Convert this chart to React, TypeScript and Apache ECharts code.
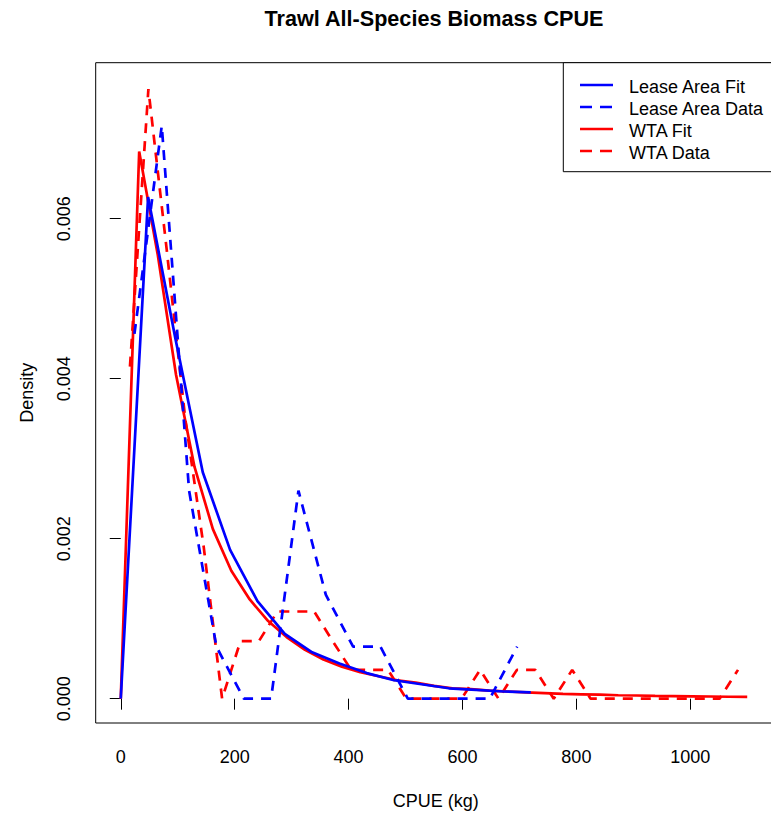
import React, { useEffect, useRef } from "react";
import * as echarts from "echarts";

const chartTitle = "Trawl All-Species Biomass CPUE";
const xTitle = "CPUE (kg)";
const yTitle = "Density";
const xTicks = [0, 200, 400, 600, 800, 1000];
const yTicks = [0, 0.002, 0.004, 0.006];
const legendNames = ["Lease Area Fit", "Lease Area Data", "WTA Fit", "WTA Data"];

const leaseFitX = [0, 48, 96, 144, 192, 240, 288, 336, 384, 432, 480, 528, 576, 624, 672, 720];
const leaseFitY = [0, 0.00627, 0.0045, 0.00283, 0.00186, 0.00122, 0.00081, 0.00058, 0.00044, 0.00032, 0.00023, 0.00018, 0.00013, 0.00011, 0.00009, 0.00008];

const leaseDataX = [24, 72, 120, 168, 216, 264, 312, 360, 408, 456, 504, 552, 600, 648, 696];
const leaseDataY = [0.00456, 0.00716, 0.0026, 0.00065, 0, 0, 0.0026, 0.0013, 0.00065, 0.00065, 0, 0, 0, 0, 0.00065];

const wtaFitX = [0, 32.35, 64.71, 97.06, 129.41, 161.76, 194.12, 226.47, 258.82, 291.18, 323.53, 355.88, 388.24, 420.59, 452.94, 485.29, 517.65, 550, 582.35, 614.71, 647.06, 679.41, 711.76, 744.12, 776.47, 808.82, 841.18, 873.53, 905.88, 938.24, 970.59, 1002.94, 1035.29, 1067.65, 1100];
const wtaFitY = [0, 0.00684, 0.00556, 0.00405, 0.0029, 0.00212, 0.0016, 0.00124, 0.00097, 0.00077, 0.00061, 0.00049, 0.0004, 0.00033, 0.00028, 0.00023, 0.0002, 0.00016, 0.00013, 0.00012, 0.0001, 0.00009, 0.000078, 0.00007, 0.00006, 0.000055, 0.00005, 0.000043, 0.00004, 0.000036, 0.000033, 0.00003, 0.000027, 0.000024, 0.000022];

const wtaDataX = [16.18, 48.53, 80.88, 113.24, 145.59, 177.94, 210.29, 242.65, 275, 307.35, 339.71, 372.06, 404.41, 436.76, 469.12, 501.47, 533.82, 566.18, 598.53, 630.88, 663.24, 695.59, 727.94, 760.29, 792.65, 825, 857.35, 889.71, 922.06, 954.41, 986.76, 1019.12, 1051.47, 1083.82];
const wtaDataY = [0.00415, 0.00762, 0.0056, 0.0035, 0.0019, 0, 0.00072, 0.00072, 0.00109, 0.00109, 0.00109, 0.00072, 0.00036, 0.00036, 0.00036, 0, 0, 0, 0, 0.00036, 0, 0.00036, 0.00036, 0, 0.00036, 0, 0, 0, 0, 0, 0, 0, 0, 0.00036];

const BLUE = "#0000FF";
const RED = "#FF0000";
const FONT = '"Liberation Sans", Arial, sans-serif';

const zip = (xs: number[], ys: number[]) => xs.map((x, i) => [x, ys[i]]);

export default function App() {
  const ref = useRef<HTMLDivElement>(null);
  useEffect(() => {
    if (!ref.current) return;
    const chart = echarts.init(ref.current, null, { renderer: "svg" });
    const lw = 2.7;
    const dash = [10, 8];
    const legendX = 563.3;
    const legendTop = 62.7;
    const rowY = [87, 109, 131, 153];
    const styles = [
      { color: BLUE, dashed: false },
      { color: BLUE, dashed: true },
      { color: RED, dashed: false },
      { color: RED, dashed: true },
    ];
    const legendGraphics: any[] = [
      {
        type: "rect",
        shape: { x: legendX, y: legendTop, width: 215, height: 109 },
        style: { fill: "#fff", stroke: "#000", lineWidth: 1 },
        z: 10,
      },
    ];
    legendNames.forEach((name, i) => {
      legendGraphics.push({
        type: "line",
        shape: { x1: 580, y1: rowY[i] - 2, x2: 613, y2: rowY[i] - 2 },
        style: { stroke: styles[i].color, lineWidth: lw, lineDash: styles[i].dashed ? [12, 8] : null },
        z: 11,
      });
      legendGraphics.push({
        type: "text",
        style: {
          text: name,
          x: 629,
          y: rowY[i],
          fontSize: 18,
          fontFamily: FONT,
          fill: "#000",
          align: "left",
          verticalAlign: "middle",
        },
        z: 11,
      });
    });

    const axisFont = { fontSize: 18, fontFamily: FONT, color: "#000" };

    chart.setOption({
      animation: false,
      backgroundColor: "#fff",
      grid: {
        left: 95.7,
        top: 62.7,
        width: 680,
        height: 660.3,
        show: true,
        borderColor: "#000",
        borderWidth: 1,
        backgroundColor: "transparent",
        containLabel: false,
        outerBoundsMode: "none",
      },
      xAxis: {
        type: "value",
        min: -44,
        max: 1150,
        name: xTitle,
        nameLocation: "middle",
        nameGap: 69,
        nameTextStyle: axisFont,
        axisLine: { show: false },
        splitLine: { show: false },
        axisTick: { show: true, length: 11, customValues: xTicks, lineStyle: { color: "#000", width: 1 } },
        axisLabel: { customValues: xTicks, margin: 25, ...axisFont, formatter: (v: number) => String(v) },
      },
      yAxis: {
        type: "value",
        min: -0.000304,
        max: 0.00795,
        name: yTitle,
        nameLocation: "middle",
        nameGap: 60,
        nameTextStyle: axisFont,
        axisLine: { show: false },
        splitLine: { show: false },
        axisTick: { show: true, length: 11, customValues: yTicks, lineStyle: { color: "#000", width: 1 } },
        axisLabel: { customValues: yTicks, margin: 23, rotate: 90, ...axisFont, formatter: (v: number) => v.toFixed(3) },
      },
      series: [
        {
          name: "WTA Fit",
          type: "line",
          data: zip(wtaFitX, wtaFitY),
          showSymbol: false,
          symbol: "none",
          lineStyle: { color: RED, width: lw },
        },
        {
          name: "WTA Data",
          type: "line",
          data: zip(wtaDataX, wtaDataY),
          showSymbol: false,
          symbol: "none",
          lineStyle: { color: RED, width: lw, type: dash },
        },
        {
          name: "Lease Area Fit",
          type: "line",
          data: zip(leaseFitX, leaseFitY),
          showSymbol: false,
          symbol: "none",
          lineStyle: { color: BLUE, width: lw },
        },
        {
          name: "Lease Area Data",
          type: "line",
          data: zip(leaseDataX, leaseDataY),
          showSymbol: false,
          symbol: "none",
          lineStyle: { color: BLUE, width: lw, type: dash },
        },
      ],
      graphic: [
        {
          type: "text",
          style: {
            text: chartTitle,
            x: 434,
            y: 18,
            fontSize: 21.6,
            fontWeight: "bold",
            fontFamily: FONT,
            fill: "#000",
            align: "center",
            verticalAlign: "middle",
          },
        },
        ...legendGraphics,
      ],
    });
    return () => chart.dispose();
  }, []);
  return <div ref={ref} style={{ position: "absolute", left: 0, top: 0, width: 771, height: 813 }} />;
}
